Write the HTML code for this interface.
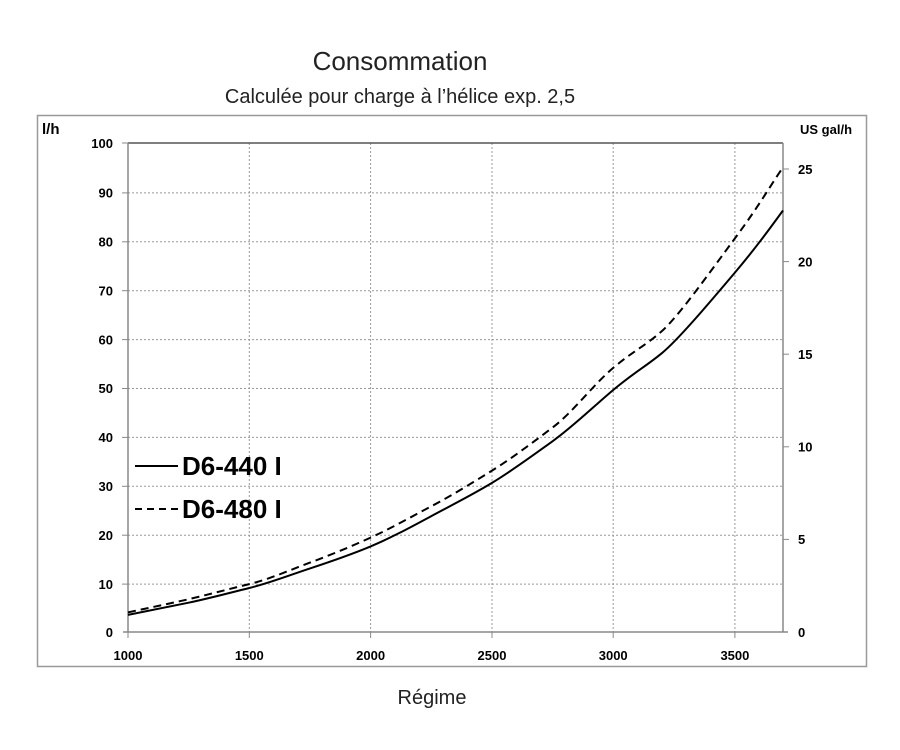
<!DOCTYPE html>
<html><head><meta charset="utf-8"><style>
html,body{margin:0;padding:0;background:#fff;width:900px;height:750px;overflow:hidden}
svg{display:block}
.t{font-family:"Liberation Sans","DejaVu Sans",sans-serif;fill:#222}
.b{font-family:"Liberation Sans",sans-serif;font-weight:bold;font-size:13px;fill:#000}
</style></head><body>
<svg width="900" height="750" viewBox="0 0 900 750">
<text class="t" x="400" y="70" font-size="26" text-anchor="middle">Consommation</text>
<text class="t" x="400" y="103" font-size="20" text-anchor="middle" fill="#333">Calculée pour charge à l’hélice exp. 2,5</text>
<rect x="37.5" y="115.5" width="829" height="551" fill="none" stroke="#999" stroke-width="1.5"/>
<g stroke="#999" stroke-width="1" stroke-dasharray="2,2">
<line x1="128" y1="192.9" x2="783" y2="192.9"/><line x1="128" y1="241.8" x2="783" y2="241.8"/>
<line x1="128" y1="290.7" x2="783" y2="290.7"/><line x1="128" y1="339.6" x2="783" y2="339.6"/>
<line x1="128" y1="388.5" x2="783" y2="388.5"/><line x1="128" y1="437.4" x2="783" y2="437.4"/>
<line x1="128" y1="486.3" x2="783" y2="486.3"/><line x1="128" y1="535.2" x2="783" y2="535.2"/>
<line x1="128" y1="584.1" x2="783" y2="584.1"/>
<line x1="249.3" y1="143" x2="249.3" y2="632"/><line x1="370.6" y1="143" x2="370.6" y2="632"/>
<line x1="492" y1="143" x2="492" y2="632"/><line x1="613.2" y1="143" x2="613.2" y2="632"/>
<line x1="734.9" y1="143" x2="734.9" y2="632"/>
</g>
<g stroke="#888" stroke-width="1.5" fill="none">
<line x1="128" y1="143" x2="783" y2="143" stroke="#555"/>
<line x1="128" y1="143" x2="128" y2="632"/>
<line x1="783" y1="143" x2="783" y2="632"/>
<line x1="123" y1="632" x2="788" y2="632"/>
<g stroke-width="1">
<line x1="122" y1="143" x2="128" y2="143"/><line x1="122" y1="192.9" x2="128" y2="192.9"/><line x1="122" y1="241.8" x2="128" y2="241.8"/><line x1="122" y1="290.7" x2="128" y2="290.7"/><line x1="122" y1="339.6" x2="128" y2="339.6"/><line x1="122" y1="388.5" x2="128" y2="388.5"/><line x1="122" y1="437.4" x2="128" y2="437.4"/><line x1="122" y1="486.3" x2="128" y2="486.3"/><line x1="122" y1="535.2" x2="128" y2="535.2"/><line x1="122" y1="584.1" x2="128" y2="584.1"/>
<line x1="128" y1="632" x2="128" y2="638"/><line x1="249.3" y1="632" x2="249.3" y2="638"/><line x1="370.6" y1="632" x2="370.6" y2="638"/><line x1="492" y1="632" x2="492" y2="638"/><line x1="613.2" y1="632" x2="613.2" y2="638"/><line x1="734.9" y1="632" x2="734.9" y2="638"/>
<line x1="783" y1="169" x2="789" y2="169"/><line x1="783" y1="261.6" x2="789" y2="261.6"/><line x1="783" y1="354.2" x2="789" y2="354.2"/><line x1="783" y1="446.8" x2="789" y2="446.8"/><line x1="783" y1="539.4" x2="789" y2="539.4"/>
</g></g>
<g text-anchor="end">
<text class="b" x="113" y="148">100</text><text class="b" x="113" y="197.5">90</text><text class="b" x="113" y="246.5">80</text><text class="b" x="113" y="295.5">70</text><text class="b" x="113" y="344.5">60</text><text class="b" x="113" y="393">50</text><text class="b" x="113" y="442">40</text><text class="b" x="113" y="491">30</text><text class="b" x="113" y="540">20</text><text class="b" x="113" y="589">10</text><text class="b" x="113" y="637">0</text>
</g>
<g text-anchor="middle">
<text class="b" x="128" y="660">1000</text><text class="b" x="249.3" y="660">1500</text><text class="b" x="370.6" y="660">2000</text><text class="b" x="492" y="660">2500</text><text class="b" x="613.2" y="660">3000</text><text class="b" x="734.9" y="660">3500</text>
</g>
<text class="b" x="798" y="174">25</text><text class="b" x="798" y="266.5">20</text><text class="b" x="798" y="359">15</text><text class="b" x="798" y="451.5">10</text><text class="b" x="798" y="544">5</text><text class="b" x="798" y="637">0</text>
<text class="b" x="42" y="134" style="font-size:15px">l/h</text>
<text class="b" x="800" y="134">US gal/h</text>
<path fill="none" stroke="#000" stroke-width="2" d="M128,614.9 C148,611 168,607 188.6,602.7 S229,593 249.3,588 S290,575 310,568.4 S350,555 370.6,546.4 S411,527 431.3,516.1 S472,495 492,482.9 S532,456 552.5,441.3 S593,407 613.2,390 S645,367 661.7,353.3 S710,302 734.9,272.6 S770,228 783,210.5"/>
<path fill="none" stroke="#000" stroke-width="2" stroke-dasharray="8,5" d="M128,612.4 C148,608 168,604 188.6,599.2 S229,589 249.3,584.1 S290,570 310,562.6 S350,547 370.6,537.6 S411,517 431.3,506.3 S472,483 492,470.6 S532,443 552.5,427.6 S593,385 613.2,367.9 S645,346 661.7,331.3 S710,272 734.9,238.4 S770,186 783,167.4"/>
<line x1="135" y1="466" x2="178" y2="466" stroke="#000" stroke-width="2"/>
<line x1="135" y1="509" x2="178" y2="509" stroke="#000" stroke-width="2" stroke-dasharray="7,5"/>
<text class="b" x="182" y="475" style="font-size:26px">D6-440 I</text>
<text class="b" x="182" y="518" style="font-size:26px">D6-480 I</text>
<text class="t" x="432" y="704" font-size="20" text-anchor="middle">Régime</text>
</svg>
</body></html>
